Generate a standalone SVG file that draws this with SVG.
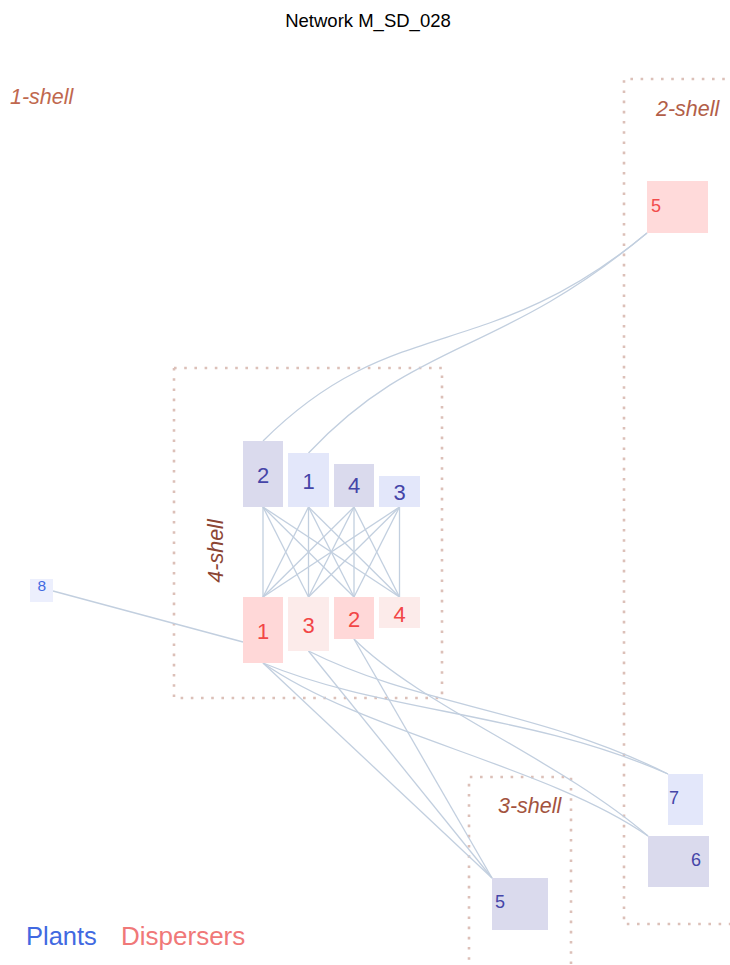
<svg xmlns="http://www.w3.org/2000/svg" width="730" height="965" viewBox="0 0 730 965">
<style>
  text { font-family: "Liberation Sans", Arial, sans-serif; }
  .shell { fill: none; stroke: #dcc0b8; stroke-width: 2.6; stroke-dasharray: 2.6 7.6; }
  .slabel { font-size: 21.5px; font-style: italic; }
  .edge { fill: none; stroke: #c2cfdf; stroke-width: 1.3; }
  .pd { fill: #dadaed; }
  .pl { fill: #e3e7fa; }
  .dd { fill: #ffd8d8; }
  .dl { fill: #fcebea; }
  .pt { fill: #4545a8; font-size: 22px; text-anchor: middle; }
  .dt { fill: #f24646; font-size: 22px; text-anchor: middle; }
  .st { font-size: 18px; }
</style>
<rect width="730" height="965" fill="#fff"/>
<text x="368" y="27" font-size="18.5" text-anchor="middle" fill="#000">Network M_SD_028</text>

<g id="shells">
  <rect class="shell" x="174" y="368" width="268" height="330"/>
  <path class="shell" d="M735 79 H624 V924 H735"/>
  <path class="shell" d="M469 970 V777 H571 V970"/>
  <text class="slabel" x="10" y="104" fill="#c0684e">1-shell</text>
  <text class="slabel" x="656" y="116" fill="#b25e48">2-shell</text>
  <text class="slabel" x="498" y="813" fill="#a3533e">3-shell</text>
  <text class="slabel" transform="translate(223,551) rotate(-90)" text-anchor="middle" fill="#8c4634">4-shell</text>
</g>

<g id="connectors">
  <path class="edge" d="M263 441 C393 311 487 366 647 233"/>
  <path class="edge" d="M308.5 453 C418 337 497 358 647 233"/>
  <line class="edge" x1="53" y1="591" x2="243" y2="642"/>
  <line class="edge" x1="263" y1="507" x2="263" y2="597"/>
  <line class="edge" x1="263" y1="507" x2="308.5" y2="597"/>
  <line class="edge" x1="263" y1="507" x2="354" y2="597"/>
  <line class="edge" x1="263" y1="507" x2="399.5" y2="597"/>
  <line class="edge" x1="308.5" y1="507" x2="263" y2="597"/>
  <line class="edge" x1="308.5" y1="507" x2="308.5" y2="597"/>
  <line class="edge" x1="308.5" y1="507" x2="354" y2="597"/>
  <line class="edge" x1="308.5" y1="507" x2="399.5" y2="597"/>
  <line class="edge" x1="354" y1="507" x2="263" y2="597"/>
  <line class="edge" x1="354" y1="507" x2="308.5" y2="597"/>
  <line class="edge" x1="354" y1="507" x2="354" y2="597"/>
  <line class="edge" x1="354" y1="507" x2="399.5" y2="597"/>
  <line class="edge" x1="399.5" y1="507" x2="263" y2="597"/>
  <line class="edge" x1="399.5" y1="507" x2="308.5" y2="597"/>
  <line class="edge" x1="399.5" y1="507" x2="354" y2="597"/>
  <line class="edge" x1="399.5" y1="507" x2="399.5" y2="597"/>
  <line class="edge" x1="263" y1="663" x2="492" y2="878"/>
  <line class="edge" x1="308.5" y1="651" x2="492" y2="878"/>
  <line class="edge" x1="354" y1="639" x2="492" y2="878"/>
  <path class="edge" d="M263 663 C383 713 528 712 668 774"/>
  <path class="edge" d="M308.5 651 C418 706 538 709 668 774"/>
  <path class="edge" d="M354 639 C420 705 560 760 648 836"/>
  <path class="edge" d="M263 663 C363 733 548 766 648 836"/>
</g>

<g id="plant-2"><rect class="pd" x="243" y="441" width="40" height="66"/><text class="pt" x="263" y="483">2</text></g>
<g id="plant-1"><rect class="pl" x="288" y="453" width="41" height="54"/><text class="pt" x="308.5" y="489">1</text></g>
<g id="plant-4"><rect class="pd" x="334" y="464" width="40" height="43"/><text class="pt" x="354" y="493">4</text></g>
<g id="plant-3"><rect class="pl" x="379" y="476" width="41" height="31"/><text class="pt" x="399.5" y="500">3</text></g>

<g id="disperser-1"><rect class="dd" x="243" y="597" width="40" height="66"/><text class="dt" x="263" y="639">1</text></g>
<g id="disperser-3"><rect class="dl" x="288" y="597" width="41" height="54"/><text class="dt" x="308.5" y="633">3</text></g>
<g id="disperser-2"><rect class="dd" x="334" y="597" width="40" height="42"/><text class="dt" x="354" y="627">2</text></g>
<g id="disperser-4"><rect class="dl" x="379" y="597" width="41" height="31"/><text class="dt" x="399.5" y="622">4</text></g>

<g id="disperser-5"><rect x="647" y="181" width="61" height="52" fill="#ffdada"/><text class="st" x="651" y="212" fill="#f24c4c">5</text></g>
<g id="plant-8"><rect x="30" y="579" width="23" height="23" fill="#eceffd"/><text x="41.7" y="591" font-size="15.5" text-anchor="middle" fill="#4169e1">8</text></g>
<g id="plant-5"><rect class="pd" x="492" y="878" width="56" height="52"/><text class="st" x="495" y="908" fill="#4545a8">5</text></g>
<g id="plant-7"><rect class="pl" x="668" y="774" width="35" height="51"/><text class="st" x="669" y="804" fill="#4545a8">7</text></g>
<g id="plant-6"><rect class="pd" x="648" y="836" width="61" height="51"/><text class="st" x="701" y="866" text-anchor="end" fill="#4545a8">6</text></g>

<g id="legend">
  <text x="26" y="945" font-size="25.5" fill="#4169e1">Plants</text>
  <text x="121" y="945" font-size="26" fill="#f07878">Dispersers</text>
</g>
</svg>
